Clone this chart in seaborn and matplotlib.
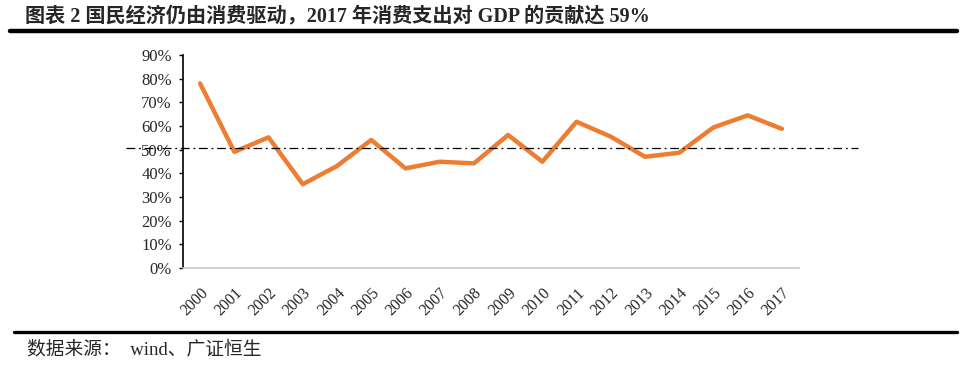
import numpy as np
import pandas as pd
import matplotlib
matplotlib.use("Agg")
import matplotlib.pyplot as plt
import seaborn as sns
from matplotlib.lines import Line2D
from matplotlib.ticker import PercentFormatter

years = [str(y) for y in range(2000, 2018)]
contribution = [78.0, 49.1, 55.2, 35.4, 43.1, 54.1, 42.1, 44.9, 44.2,
                56.2, 44.9, 61.8, 55.5, 47.0, 48.7, 59.4, 64.5, 58.8]
ref_level = 50.5

title = "图表 2 国民经济仍由消费驱动，2017 年消费支出对 GDP 的贡献达 59%"
source = "数据来源：  wind、广证恒生"

df = pd.DataFrame({"year": years, "share": np.array(contribution) / 100})

sns.set_style("white")
plt.rcParams["font.family"] = ["Liberation Serif", "Noto Sans CJK SC"]

fig = plt.figure(figsize=(9.69, 3.66), dpi=100)
ax = fig.add_axes([183 / 969, 1 - 268 / 366, 616 / 969, 213 / 366])

sns.lineplot(data=df, x="year", y="share", color="#ED7D31",
             linewidth=3.2, ax=ax, solid_joinstyle="round")

ax.axhline(ref_level / 100, xmin=-0.0925, xmax=1.096, color="black",
           linewidth=0.9, linestyle=(0, (7, 3, 1.5, 3)), clip_on=False)

ax.set_xlim(-0.5, len(years) - 0.5)
ax.set_ylim(0, 0.9)
ax.set_yticks(np.arange(0, 0.91, 0.1))
ax.yaxis.set_major_formatter(PercentFormatter(1.0, decimals=0))
ax.set_xlabel("")
ax.set_ylabel("")

for s in ["top", "right"]:
    ax.spines[s].set_visible(False)
ax.spines["left"].set_color("black")
ax.spines["left"].set_linewidth(1.2)
ax.spines["bottom"].set_color("#c8c8c8")
ax.spines["bottom"].set_linewidth(1.2)

ax.tick_params(axis="y", which="major", left=True, length=3, width=1,
               color="black", labelsize=12, pad=5)
ax.tick_params(axis="x", bottom=False, labelsize=11.5, pad=9)
plt.setp(ax.get_xticklabels(), rotation=45, ha="right", rotation_mode="anchor")

fig.text(25 / 969, 1 - 16 / 366, title, fontsize=14.5, fontweight="bold",
         va="center", ha="left")
fig.add_artist(Line2D([10 / 969, 957 / 969], [1 - 31 / 366, 1 - 31 / 366],
                      color="black", linewidth=3.2))
fig.add_artist(Line2D([14 / 969, 957 / 969], [1 - 331.5 / 366, 1 - 331.5 / 366],
                      color="black", linewidth=2.4))
fig.text(27 / 969, 1 - 349 / 366, source, fontsize=13.5, va="center", ha="left")

fig.savefig("out.png", dpi=100)
